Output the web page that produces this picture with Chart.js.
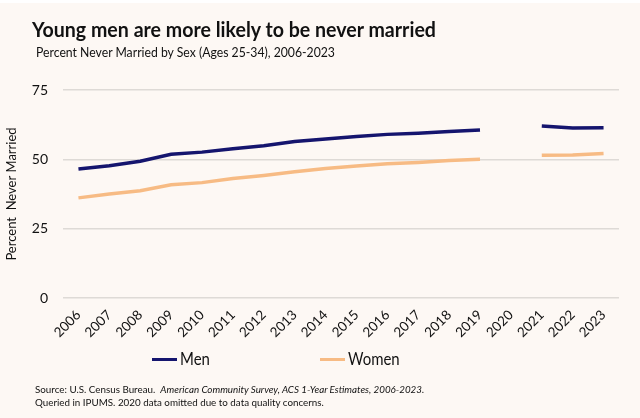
<!DOCTYPE html>
<html>
<head>
<meta charset="utf-8">
<script src="https://cdn.jsdelivr.net/npm/chart.js@4.4.1/dist/chart.umd.min.js"></script>
<style>
  html, body { margin: 0; padding: 0; }
  body { width: 640px; height: 418px; background: #fdf8f4; position: relative; overflow: hidden; font-family: Lato, sans-serif; color: #111; }
  #topstrip { position: absolute; left: 0; top: 0; width: 640px; height: 3px; background: #fff; }
  #title { position: absolute; left: 32px; top: 18px; font-size: 21px; font-weight: bold; line-height: 1; white-space: nowrap; transform: scaleX(0.933); transform-origin: left top; }
  #subtitle { position: absolute; left: 36px; top: 46px; font-size: 13px; line-height: 1; white-space: nowrap; transform: scaleX(0.94); transform-origin: left top; }
  #chart { position: absolute; left: 0; top: 0; }
  .leg { position: absolute; top: 350px; font-size: 17px; line-height: 1; white-space: nowrap; }
  .leg span.ln { display: inline-block; width: 25px; height: 3px; vertical-align: middle; margin-right: 3px; position: relative; top: -1px; }
  .leg span.tx { display: inline-block; transform: scaleX(0.88); transform-origin: left center; }
  #source { position: absolute; left: 35px; top: 383px; font-size: 10px; line-height: 13.3px; white-space: nowrap; color: #111; transform: scaleX(0.98); transform-origin: left top; }
</style>
</head>
<body>
<div id="topstrip"></div>
<canvas id="chart" width="640" height="418"></canvas>
<div id="title">Young men are more likely to be never married</div>
<div id="subtitle">Percent Never Married by Sex (Ages 25-34), 2006-2023</div>
<div id="legMen" class="leg" style="left:152px"><span class="ln" style="background:#15156e"></span><span class="tx">Men</span></div>
<div id="legWomen" class="leg" style="left:320px"><span class="ln" style="background:#f7bb84"></span><span class="tx">Women</span></div>
<div id="source">Source: U.S. Census Bureau.&nbsp; <i>American Community Survey, ACS 1-Year Estimates, 2006-2023.</i><br>Queried in IPUMS. 2020 data omitted due to data quality concerns.</div>
<script>
const years = ['2006', '2007', '2008', '2009', '2010', '2011', '2012', '2013', '2014',
  '2015', '2016', '2017', '2018', '2019', '2020', '2021', '2022', '2023'];

const men = [46.5, 47.7, 49.3, 51.8, 52.6, 53.8, 54.9, 56.4, 57.3,
  58.2, 59.0, 59.4, 60.0, 60.6, null, 62.0, 61.3, 61.4];

const women = [36.1, 37.5, 38.7, 40.8, 41.6, 43.1, 44.2, 45.5, 46.7,
  47.6, 48.4, 48.9, 49.6, 50.0, null, 51.5, 51.6, 52.1];

const yTicks = [0, 25, 50, 75];

const ctx = document.getElementById('chart');

new Chart(ctx, {
  type: 'line',
  data: {
    labels: years,
    datasets: [{
      label: 'Men',
      data: men,
      borderColor: '#15156e',
      backgroundColor: '#15156e',
      borderWidth: 3.5,
      pointRadius: 0,
      tension: 0,
      spanGaps: false
    }, {
      label: 'Women',
      data: women,
      borderColor: '#f7bb84',
      backgroundColor: '#f7bb84',
      borderWidth: 3.5,
      pointRadius: 0,
      tension: 0,
      spanGaps: false
    }]
  },
  options: {
    responsive: false,
    animation: false,
    layout: { padding: { top: 90, right: 21, left: 0, bottom: 70 } },
    plugins: {
      legend: { display: false },
      tooltip: { enabled: false }
    },
    scales: {
      x: {
        offset: true,
        grid: { display: false },
        border: { display: false },
        ticks: {
          minRotation: 45,
          maxRotation: 45,
          autoSkip: false,
          padding: 1,
          color: '#111',
          font: { family: 'Lato', size: 13.5 }
        },
        afterFit: s => { s.height = 50; }
      },
      y: {
        min: 0,
        max: 75,
        afterBuildTicks: s => { s.ticks = yTicks.map(v => ({ value: v })); },
        grid: { color: '#dedad6', lineWidth: 1.5, drawTicks: false },
        border: { display: false },
        ticks: {
          padding: 15,
          color: '#111',
          font: { family: 'Lato', size: 14 }
        },
        title: {
          display: true,
          text: 'Percent  Never Married',
          color: '#111',
          font: { family: 'Lato', size: 13 },
          padding: { top: 4, bottom: 0 }
        },
        afterFit: s => { s.width = 63; }
      }
    }
  }
});
</script>
</body>
</html>
